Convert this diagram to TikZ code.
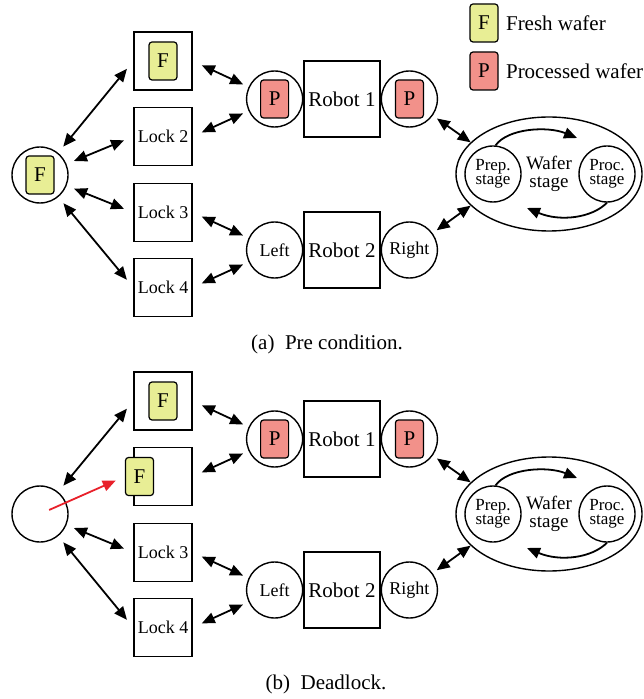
\documentclass[tikz,border=0pt]{standalone}
\usepackage{fontspec}
\setmainfont{Liberation Serif}
\usepackage{xcolor}
\usetikzlibrary{
    arrows.meta,
    positioning,
    shapes.geometric
}

\definecolor{freshwafer}{HTML}{E8EE95}
\definecolor{procwafer}{HTML}{F2918A}
\definecolor{blockred}{HTML}{E8202A}

\begin{document}
\begin{tikzpicture}[
        x=0.5pt, y=-0.5pt,
        lock/.style={
            rectangle,
            draw,
            line width=0.7pt,
            minimum size=29pt,
            inner sep=0pt,
            font=\fontsize{9}{10}\selectfont
        },
        robot/.style={
            rectangle,
            draw,
            line width=0.7pt,
            minimum size=38pt,
            inner sep=0pt,
            font=\fontsize{10.5}{12}\selectfont
        },
        port/.style={
            circle,
            draw,
            line width=0.7pt,
            minimum size=28pt,
            inner sep=0pt,
            font=\fontsize{9}{10}\selectfont
        },
        wafer/.style={
            rectangle,
            rounded corners=1.5pt,
            draw,
            line width=0.6pt,
            minimum width=14pt,
            minimum height=19pt,
            inner sep=0pt,
            font=\fontsize{10.5}{12}\selectfont
        },
        fresh/.style={wafer, fill=freshwafer},
        done/.style={wafer, fill=procwafer},
        stage/.style={
            ellipse,
            draw,
            line width=0.7pt,
            minimum width=93pt,
            minimum height=57pt,
            inner sep=0pt,
            align=center,
            font=\fontsize{9.5}{9}\selectfont
        },
        substage/.style={
            circle,
            draw,
            line width=0.7pt,
            minimum size=28pt,
            inner sep=0pt,
            align=center,
            font=\fontsize{8.5}{7}\selectfont
        },
        line/.style={
            {Triangle[length=6.5pt,width=5.5pt]}-{Triangle[length=6.5pt,width=5.5pt]},
            line width=0.9pt
        },
        turn/.style={
            -{Triangle[length=6.5pt,width=5.5pt]},
            line width=0.9pt
        },
        caption/.style={font=\fontsize{10.5}{12}\selectfont}
    ]

    \useasboundingbox (0,0) rectangle (643,699);

    % legend
    \node[fresh] (keyf) at (484,23) {F};
    \node[done] (keyp) at (484,71) {P};
    \node[anchor=west, caption] (keyftext) at (499,23) {Fresh wafer};
    \node[anchor=west, caption] (keyptext) at (499,71) {Processed wafer};

    % (a) pre condition
    \node[port] (fa) at (40,175) {};
    \node[fresh] (fatag) at (fa) {F};

    \node[lock] (la1) at (163,61) {};
    \node[fresh] (la1tag) at (la1) {F};
    \node[lock] (la2) at (163,136.5) {Lock 2};
    \node[lock] (la3) at (163,212.5) {Lock 3};
    \node[lock] (la4) at (163,287.5) {Lock 4};

    \node[robot] (ra1) at (342,99) {Robot 1};
    \node[port, left=0pt of ra1] (ra1l) {};
    \node[port, right=0pt of ra1] (ra1r) {};
    \node[done] (ra1ltag) at (ra1l) {P};
    \node[done] (ra1rtag) at (ra1r) {P};

    \node[robot] (ra2) at (342,250) {Robot 2};
    \node[port, left=0pt of ra2] (ra2l) {Left};
    \node[port, right=0pt of ra2] (ra2r) {Right};

    \node[stage] (wa) at (549,174) {Wafer\\stage};
    \node[substage] (prepa) at (493,174) {Prep.\\stage};
    \node[substage] (proca) at (607,174) {Proc.\\stage};
    \coordinate (topa) at (577,138);
    \coordinate (bota) at (527,208);

    \draw[line, shorten <=4pt, shorten >=5pt] (fa) -- (la1.west);
    \draw[line, shorten <=4pt, shorten >=5pt] (fa) -- (la2.west);
    \draw[line, shorten <=4pt, shorten >=5pt] (fa) -- (la3.west);
    \draw[line, shorten <=4pt, shorten >=5pt] (fa) -- (la4.west);

    \draw[line, shorten <=5pt, shorten >=3pt] (la1.east) -- (ra1l);
    \draw[line, shorten <=5pt, shorten >=3pt] (la2.east) -- (ra1l);
    \draw[line, shorten <=5pt, shorten >=3pt] (la3.east) -- (ra2l);
    \draw[line, shorten <=5pt, shorten >=3pt] (la4.east) -- (ra2l);

    \draw[line, shorten <=2.5pt] (ra1r) -- (wa.158);
    \draw[line, shorten <=2.5pt] (ra2r) -- (wa.202);

    \draw[turn] (prepa.85) .. controls (508,128) and (548,126) .. (topa);
    \draw[turn] (proca.south) .. controls (592,218) and (560,222) .. (bota);

    \node[caption] (capa) at (327,344) {(a)\ \ Pre condition.};

    % (b) deadlock
    \node[port] (fb) at (40,514) {};

    \node[lock] (lb1) at (163,401) {};
    \node[fresh] (lb1tag) at (lb1) {F};
    \node[lock] (lb2) at (163,476.5) {};
    \node[fresh] (lb2tag) at (139.5,476.5) {F};
    \node[lock] (lb3) at (163,552.5) {Lock 3};
    \node[lock] (lb4) at (163,627.5) {Lock 4};

    \node[robot] (rb1) at (342,439) {Robot 1};
    \node[port, left=0pt of rb1] (rb1l) {};
    \node[port, right=0pt of rb1] (rb1r) {};
    \node[done] (rb1ltag) at (rb1l) {P};
    \node[done] (rb1rtag) at (rb1r) {P};

    \node[robot] (rb2) at (342,590) {Robot 2};
    \node[port, left=0pt of rb2] (rb2l) {Left};
    \node[port, right=0pt of rb2] (rb2r) {Right};

    \node[stage] (wb) at (549,514) {Wafer\\stage};
    \node[substage] (prepb) at (493,514) {Prep.\\stage};
    \node[substage] (procb) at (607,514) {Proc.\\stage};
    \coordinate (topb) at (577,478);
    \coordinate (botb) at (527,548);

    \draw[line, shorten <=4pt, shorten >=5pt] (fb) -- (lb1.west);
    \draw[line, shorten <=4pt, shorten >=5pt] (fb) -- (lb3.west);
    \draw[line, shorten <=4pt, shorten >=5pt] (fb) -- (lb4.west);
    \draw[turn, blockred, shorten <=5pt, shorten >=5pt] (fb.center) -- (lb2tag.west);

    \draw[line, shorten <=5pt, shorten >=3pt] (lb1.east) -- (rb1l);
    \draw[line, shorten <=5pt, shorten >=3pt] (lb2.east) -- (rb1l);
    \draw[line, shorten <=5pt, shorten >=3pt] (lb3.east) -- (rb2l);
    \draw[line, shorten <=5pt, shorten >=3pt] (lb4.east) -- (rb2l);

    \draw[line, shorten <=2.5pt] (rb1r) -- (wb.158);
    \draw[line, shorten <=2.5pt] (rb2r) -- (wb.202);

    \draw[turn] (prepb.85) .. controls (508,468) and (548,466) .. (topb);
    \draw[turn] (procb.south) .. controls (592,558) and (560,562) .. (botb);

    \node[caption] (capb) at (326,684) {(b)\ \ Deadlock.};

\end{tikzpicture}
\end{document}
